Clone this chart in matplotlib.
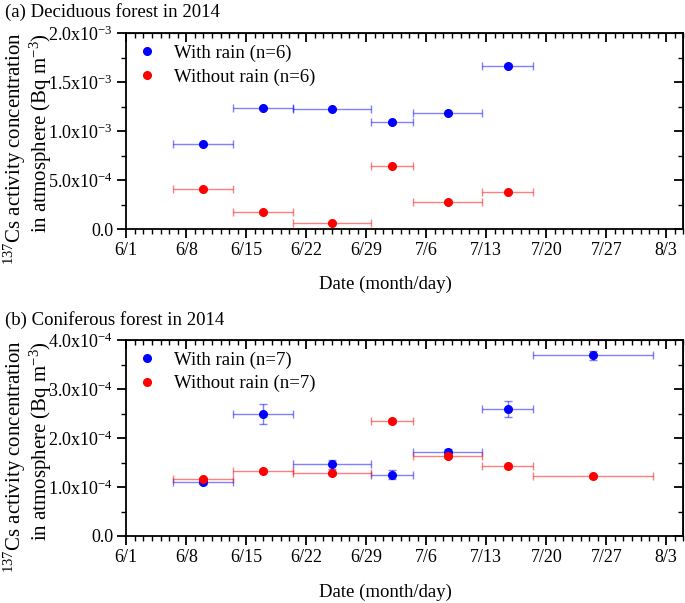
import matplotlib
matplotlib.use("Agg")
import matplotlib.pyplot as plt
from matplotlib.lines import Line2D
import pandas as pd
import numpy as np

plt.rcParams['font.family'] = ['Liberation Serif', 'DejaVu Serif']
plt.rcParams['mathtext.default'] = 'regular'

# ---------------- data ----------------
origin = pd.Timestamp("2014-06-01")
xtick_labels = ["6/1", "6/8", "6/15", "6/22", "6/29", "7/6", "7/13", "7/20", "7/27", "8/3"]

# (a) Deciduous forest – sampling periods
a_start = ["2014-06-06 12:00", "2014-06-13 12:00", "2014-06-20 12:00", "2014-06-29 12:00",
           "2014-07-04 12:00", "2014-07-12 12:00"]
a_end = ["2014-06-13 12:00", "2014-06-20 12:00", "2014-06-29 12:00", "2014-07-04 12:00",
         "2014-07-12 12:00", "2014-07-18 12:00"]
a_rain = [0.867e-3, 1.24e-3, 1.23e-3, 1.09e-3, 1.19e-3, 1.67e-3]
a_rain_err = [0.01e-3, 0.01e-3, 0.01e-3, 0.01e-3, 0.01e-3, 0.015e-3]
a_dry = [0.41e-3, 0.18e-3, 0.065e-3, 0.645e-3, 0.28e-3, 0.378e-3]
a_dry_err = [0.008e-3, 0.006e-3, 0.005e-3, 0.01e-3, 0.006e-3, 0.008e-3]

# (b) Coniferous forest – sampling periods
b_start = ["2014-06-06 12:00", "2014-06-13 12:00", "2014-06-20 12:00", "2014-06-29 12:00",
           "2014-07-04 12:00", "2014-07-12 12:00", "2014-07-18 12:00"]
b_end = ["2014-06-13 12:00", "2014-06-20 12:00", "2014-06-29 12:00", "2014-07-04 12:00",
         "2014-07-12 12:00", "2014-07-18 12:00", "2014-08-01 12:00"]
b_rain = [1.10e-4, 2.49e-4, 1.46e-4, 1.25e-4, 1.71e-4, 2.59e-4, 3.69e-4]
b_rain_err = [0.03e-4, 0.20e-4, 0.09e-4, 0.09e-4, 0.06e-4, 0.16e-4, 0.09e-4]
b_dry = [1.16e-4, 1.33e-4, 1.28e-4, 2.35e-4, 1.63e-4, 1.43e-4, 1.22e-4]
b_dry_err = [0.03e-4, 0.03e-4, 0.03e-4, 0.04e-4, 0.03e-4, 0.04e-4, 0.03e-4]

a_yticks = [0, 5e-4, 1e-3, 1.5e-3, 2e-3]
a_yticklabels = ["0.0", "5.0x10$^{-4}$", "1.0x10$^{-3}$", "1.5x10$^{-3}$", "2.0x10$^{-3}$"]
b_yticks = [0, 1e-4, 2e-4, 3e-4, 4e-4]
b_yticklabels = ["0.0", "1.0x10$^{-4}$", "2.0x10$^{-4}$", "3.0x10$^{-4}$", "4.0x10$^{-4}$"]

titles = ["(a) Deciduous forest in 2014", "(b) Coniferous forest in 2014"]
legend_a = ["With rain (n=6)", "Without rain (n=6)"]
legend_b = ["With rain (n=7)", "Without rain (n=7)"]
ylabel_lines = ["$^{137}$Cs activity concentration", "in atmosphere (Bq m$^{-3}$)"]
xlabel = "Date (month/day)"

FS = 13
BLUE = "#0000FF"
RED = "#FF0000"


def days(ts):
    return np.array([(pd.Timestamp(t) - origin) / pd.Timedelta(days=1) for t in ts])


fig = plt.figure(figsize=(6.85, 6.03), dpi=100)
W, H = 685, 603


def make_axes(top_px, bottom_px):
    left, right = 126.3, 683.4
    return fig.add_axes([left / W, 1 - bottom_px / H, (right - left) / W, (bottom_px - top_px) / H])


def style(ax, yticks, yticklabels, ymax, yminor):
    ax.set_xlim(0, 65)
    ax.set_ylim(0, ymax)
    xt = np.arange(0, 64, 7)
    ax.set_xticks(xt)
    ax.set_xticklabels(xtick_labels, fontsize=FS)
    ax.set_xticks(np.arange(0, 66, 1), minor=True)
    ax.set_yticks(yticks)
    ax.set_yticklabels(yticklabels, fontsize=FS)
    ax.set_yticks(np.arange(0, ymax + 1e-12, yminor), minor=True)
    for s in ax.spines.values():
        s.set_linewidth(1.3)
    ax.tick_params(which='major', direction='out', length=6.5, width=1.3, pad=3)
    ax.tick_params(which='minor', direction='out', length=3.5, width=1.0)
    # mirrored ticks (pointing inward on top/right)
    sx = ax.secondary_xaxis('top')
    sx.set_xticks(xt)
    sx.set_xticks(np.arange(0, 66, 1), minor=True)
    sx.tick_params(which='major', direction='in', length=6.5, width=1.3, labeltop=False)
    sx.tick_params(which='minor', direction='in', length=3.5, width=1.0)
    sy = ax.secondary_yaxis('right')
    sy.set_yticks(yticks)
    sy.set_yticks(np.arange(0, ymax + 1e-12, yminor), minor=True)
    sy.tick_params(which='major', direction='in', length=6.5, width=1.3, labelright=False)
    sy.tick_params(which='minor', direction='in', length=3.5, width=1.0)


def draw(ax, start, end, rain, rain_err, dry, dry_err, labels):
    s, e = days(start), days(end)
    c = (s + e) / 2
    half = (e - s) / 2
    for vals, err, col in [(rain, rain_err, BLUE), (dry, dry_err, RED)]:
        ax.errorbar(c, vals, xerr=half, yerr=err, fmt='none', ecolor=col, alpha=0.5,
                    elinewidth=1.0, capsize=3, capthick=1.0, zorder=2)
        ax.plot(c, vals, 'o', color=col, markersize=5.5, zorder=3, linestyle='none')
    handles = [Line2D([], [], marker='o', color=BLUE, linestyle='none', markersize=5.5),
               Line2D([], [], marker='o', color=RED, linestyle='none', markersize=5.5)]
    ax.legend(handles, labels, loc='upper left', bbox_to_anchor=(0.0, 1.0), frameon=False,
              fontsize=13.5, handlelength=1.0, handletextpad=0.95, labelspacing=0.35,
              borderpad=0.3, borderaxespad=0.3)


ax1 = make_axes(33.3, 229.3)
draw(ax1, a_start, a_end, a_rain, a_rain_err, a_dry, a_dry_err, legend_a)
style(ax1, a_yticks, a_yticklabels, 2e-3, 2.5e-4)

ax2 = make_axes(340.0, 536.0)
draw(ax2, b_start, b_end, b_rain, b_rain_err, b_dry, b_dry_err, legend_b)
style(ax2, b_yticks, b_yticklabels, 4e-4, 0.5e-4)

for t, off in [(titles[0], 0), (titles[1], 308)]:
    fig.text(5 / W, 1 - (12 + off) / H, t, fontsize=13.5, ha='left', va='center')
    fig.text(15 / W, 1 - (148 + off) / H, ylabel_lines[0], fontsize=15, rotation=90,
             ha='center', va='center')
    fig.text(41 / W, 1 - (133 + off) / H, ylabel_lines[1], fontsize=15, rotation=90,
             ha='center', va='center')
    fig.text(385.5 / W, 1 - (284 + off) / H, xlabel, fontsize=FS + 0.5, ha='center', va='center')

fig.savefig("out.png", dpi=100)
